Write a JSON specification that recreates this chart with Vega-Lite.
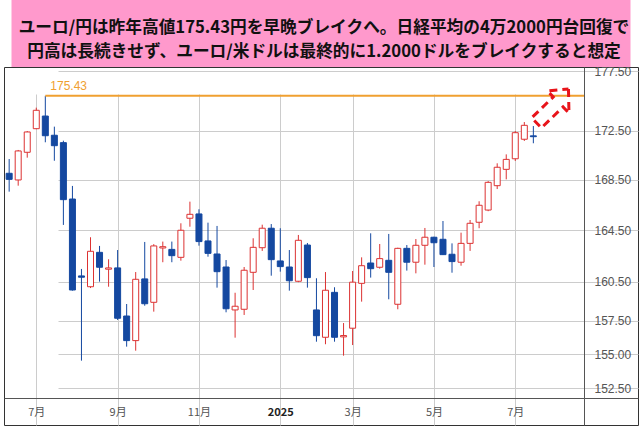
{
  "$schema": "https://vega.github.io/schema/vega-lite/v6.json",
  "padding": {"left": 3, "top": 0, "right": 3, "bottom": 2},
  "background": "white",
  "bounds": "flush",
  "spacing": 0,
  "center": true,
  "datasets": {
    "candles": [
      {"date":"2024-06-10","o":169.04,"h":170.20,"l":167.56,"c":168.55},
      {"date":"2024-06-17","o":168.50,"h":170.94,"l":168.04,"c":170.86},
      {"date":"2024-06-24","o":170.75,"h":172.50,"l":170.31,"c":172.42},
      {"date":"2024-07-01","o":172.69,"h":174.44,"l":172.65,"c":174.22},
      {"date":"2024-07-08","o":173.74,"h":175.43,"l":171.57,"c":172.11},
      {"date":"2024-07-15","o":172.15,"h":172.86,"l":170.06,"c":171.29},
      {"date":"2024-07-22","o":171.54,"h":171.70,"l":164.91,"c":166.92},
      {"date":"2024-07-29","o":166.97,"h":168.02,"l":159.80,"c":159.85},
      {"date":"2024-08-05","o":160.93,"h":161.47,"l":154.53,"c":160.83},
      {"date":"2024-08-12","o":160.10,"h":163.94,"l":160.00,"c":162.84},
      {"date":"2024-08-19","o":162.76,"h":163.26,"l":160.49,"c":161.60},
      {"date":"2024-08-26","o":161.45,"h":162.22,"l":160.10,"c":161.55},
      {"date":"2024-09-02","o":161.55,"h":162.94,"l":157.57,"c":157.70},
      {"date":"2024-09-09","o":157.87,"h":158.78,"l":155.57,"c":156.02},
      {"date":"2024-09-16","o":156.02,"h":161.23,"l":155.27,"c":160.67},
      {"date":"2024-09-23","o":160.70,"h":163.57,"l":158.65,"c":158.80},
      {"date":"2024-09-30","o":158.91,"h":163.40,"l":158.20,"c":163.26},
      {"date":"2024-10-07","o":163.10,"h":163.60,"l":161.99,"c":163.20},
      {"date":"2024-10-14","o":162.99,"h":163.60,"l":161.99,"c":162.50},
      {"date":"2024-10-21","o":162.37,"h":165.04,"l":162.11,"c":164.49},
      {"date":"2024-10-28","o":165.44,"h":166.76,"l":164.77,"c":165.75},
      {"date":"2024-11-04","o":165.78,"h":166.15,"l":163.28,"c":163.60},
      {"date":"2024-11-11","o":163.65,"h":165.09,"l":162.42,"c":162.68},
      {"date":"2024-11-18","o":162.63,"h":164.83,"l":160.03,"c":161.26},
      {"date":"2024-11-25","o":161.62,"h":162.16,"l":158.15,"c":158.42},
      {"date":"2024-12-02","o":158.33,"h":159.64,"l":156.24,"c":158.61},
      {"date":"2024-12-09","o":158.38,"h":161.62,"l":157.95,"c":161.37},
      {"date":"2024-12-16","o":161.21,"h":163.86,"l":159.85,"c":163.15},
      {"date":"2024-12-23","o":163.12,"h":164.93,"l":162.87,"c":164.65},
      {"date":"2024-12-30","o":164.65,"h":164.98,"l":160.95,"c":162.19},
      {"date":"2025-01-06","o":162.09,"h":164.65,"l":161.26,"c":161.65},
      {"date":"2025-01-13","o":161.62,"h":162.94,"l":159.80,"c":160.56},
      {"date":"2025-01-20","o":160.52,"h":164.12,"l":160.45,"c":163.70},
      {"date":"2025-01-27","o":163.33,"h":163.49,"l":160.03,"c":160.80},
      {"date":"2025-02-03","o":158.33,"h":160.75,"l":155.94,"c":156.39},
      {"date":"2025-02-10","o":156.27,"h":161.23,"l":155.75,"c":159.83},
      {"date":"2025-02-17","o":159.67,"h":160.06,"l":155.94,"c":156.27},
      {"date":"2025-02-24","o":156.30,"h":157.34,"l":154.90,"c":156.40},
      {"date":"2025-03-03","o":156.95,"h":161.31,"l":155.69,"c":160.45},
      {"date":"2025-03-10","o":160.36,"h":162.37,"l":158.96,"c":161.72},
      {"date":"2025-03-17","o":161.93,"h":164.25,"l":160.80,"c":161.49},
      {"date":"2025-03-24","o":161.60,"h":163.41,"l":161.49,"c":162.27},
      {"date":"2025-03-31","o":162.14,"h":164.20,"l":159.14,"c":161.21},
      {"date":"2025-04-07","o":158.76,"h":163.12,"l":158.38,"c":163.07},
      {"date":"2025-04-14","o":163.07,"h":163.33,"l":161.34,"c":161.99},
      {"date":"2025-04-21","o":161.99,"h":163.80,"l":161.13,"c":163.31},
      {"date":"2025-04-28","o":163.31,"h":164.67,"l":161.80,"c":163.94},
      {"date":"2025-05-05","o":163.94,"h":163.98,"l":161.62,"c":163.51},
      {"date":"2025-05-12","o":163.78,"h":165.22,"l":162.55,"c":162.58},
      {"date":"2025-05-19","o":162.61,"h":163.46,"l":161.18,"c":162.04},
      {"date":"2025-05-26","o":161.99,"h":164.30,"l":161.72,"c":163.46},
      {"date":"2025-06-02","o":163.46,"h":165.30,"l":162.87,"c":165.04},
      {"date":"2025-06-09","o":165.12,"h":166.79,"l":164.65,"c":166.47},
      {"date":"2025-06-16","o":166.09,"h":168.41,"l":166.00,"c":168.31},
      {"date":"2025-06-23","o":168.04,"h":169.85,"l":167.77,"c":169.53},
      {"date":"2025-06-30","o":169.36,"h":170.58,"l":168.55,"c":170.17},
      {"date":"2025-07-07","o":170.22,"h":172.50,"l":170.04,"c":172.36},
      {"date":"2025-07-14","o":171.82,"h":173.24,"l":171.68,"c":172.97},
      {"date":"2025-07-21","o":172.10,"h":172.91,"l":171.49,"c":172.03}
    ],
    "level": [
      {"date":"2024-07-08","end":"2025-08-29T05:30:00Z","price":175.43}
    ],
    "arrow": [
      {"i":0,"date":"2025-08-17T05:00:00Z","price":176.01},
      {"i":1,"date":"2025-08-17T14:00:00Z","price":173.99},
      {"i":2,"date":"2025-08-13T00:00:00Z","price":174.50},
      {"i":3,"date":"2025-07-27T07:00:00Z","price":172.76},
      {"i":4,"date":"2025-07-19T17:00:00Z","price":173.59},
      {"i":5,"date":"2025-08-05T10:00:00Z","price":175.34},
      {"i":6,"date":"2025-07-31T22:00:00Z","price":175.84},
      {"i":7,"date":"2025-08-17T05:00:00Z","price":176.01}
    ]
  },
  "vconcat": [
    {
      "width": 619,
      "height": 67,
      "view": {"fill": "#ff99cc", "stroke": null},
      "data": {"values": [{"t": "ユーロ/円は昨年高値175.43円を早晩ブレイクへ。日経平均の4万2000円台回復で\n円高は長続きせず、ユーロ/米ドルは最終的に1.2000ドルをブレイクすると想定"}]},
      "mark": {"type": "text", "lineBreak": "\n", "lineHeight": 24, "font": "Noto Sans CJK JP", "fontWeight": "bold", "fontSize": 16.7, "color": "#111111", "align": "center", "baseline": "middle", "dx": 3, "dy": -6},
      "encoding": {"text": {"field": "t", "type": "nominal"}}
    },
    {
      "width": 634,
      "height": 358,
      "view": {"stroke": "#333333", "strokeWidth": 1, "fill": "white"},
      "layer": [
        {
          "data": {"name": "candles"},
          "mark": {"type": "rule", "strokeWidth": 1},
          "encoding": {
            "x": {
              "field": "date", "type": "temporal",
              "scale": {
                "domain": [{"year": 2024, "month": 6, "date": 6, "utc": true}, {"year": 2025, "month": 8, "date": 29, "hours": 5, "minutes": 30, "utc": true}],
                "range": [0, 580],
                "padding": 0
              },
              "axis": {
                "orient": "bottom", "offset": -27, "title": null,
                "values": [
                  {"year": 2024, "month": 7, "date": 1, "utc": true},
                  {"year": 2024, "month": 9, "date": 2, "utc": true},
                  {"year": 2024, "month": 11, "date": 4, "utc": true},
                  {"year": 2025, "month": 1, "date": 6, "utc": true},
                  {"year": 2025, "month": 3, "date": 3, "utc": true},
                  {"year": 2025, "month": 5, "date": 5, "utc": true},
                  {"year": 2025, "month": 7, "date": 7, "utc": true},
                  {"year": 2025, "month": 8, "date": 29, "hours": 5, "minutes": 30, "utc": true}
                ],
                "labelExpr": "datum.value > utc(2025,7,15) ? '' : (utcmonth(datum.value) == 0 ? '2025' : (utcmonth(datum.value) + 1) + '月')",
                "grid": true, "gridColor": "#cccccc", "gridWidth": 1,
                "gridOpacity": {"condition": {"test": "datum.value > utc(2025,7,15)", "value": 0}, "value": 1},
                "ticks": true, "tickSize": 27, "tickColor": "#555555", "tickWidth": 1,
                "tickOpacity": {"condition": {"test": "datum.value > utc(2025,7,15)", "value": 1}, "value": 0},
                "domainColor": "#555555", "domainWidth": 1,
                "labelPadding": -19, "labelFont": "Noto Sans CJK JP", "labelFontSize": 11,
                "labelColor": {"condition": {"test": "utcmonth(datum.value) == 0", "value": "#222222"}, "value": "#555555"},
                "labelFontWeight": {"condition": {"test": "utcmonth(datum.value) == 0", "value": "bold"}, "value": "normal"},
                "labelFlush": false, "labelOverlap": false
              }
            },
            "y": {
              "field": "l", "type": "quantitative",
              "scale": {"type": "log", "domain": [151.79, 177.87], "range": [331, 0], "nice": false, "padding": 0},
              "axis": {
                "orient": "right", "offset": -54, "title": null,
                "values": [151.79, 152.5, 155, 157.5, 160.5, 164.5, 168.5, 172.5, 177.5],
                "labelExpr": "datum.value < 152 ? '' : format(datum.value, '.2f')",
                "grid": true, "gridColor": "#cccccc", "gridWidth": 1,
                "gridOpacity": {"condition": {"test": "datum.value < 152", "value": 0}, "value": 1},
                "ticks": true, "tickSize": 54, "tickColor": "#555555", "tickWidth": 1,
                "tickOpacity": {"condition": {"test": "datum.value < 152", "value": 1}, "value": 0},
                "domainColor": "#555555", "domainWidth": 1,
                "labelPadding": -44, "labelFont": "Liberation Sans", "labelFontSize": 12, "labelColor": "#555555",
                "labelFlush": false, "labelOverlap": false, "labelBound": false
              }
            },
            "y2": {"field": "h"},
            "color": {"condition": {"test": "datum.c >= datum.o", "value": "#dc3232"}, "value": "#1448a0"}
          }
        },
        {
          "data": {"name": "candles"},
          "mark": {"type": "bar", "size": 6, "strokeWidth": 1},
          "encoding": {
            "x": {"field": "date", "type": "temporal"},
            "y": {"field": "o", "type": "quantitative"},
            "y2": {"field": "c"},
            "fill": {"condition": {"test": "datum.c >= datum.o", "value": "#ffffff"}, "value": "#1448a0"},
            "stroke": {"condition": {"test": "datum.c >= datum.o", "value": "#dc3232"}, "value": "#1448a0"}
          }
        },
        {
          "data": {"name": "level"},
          "mark": {"type": "rule", "color": "#f0a030", "strokeWidth": 2},
          "encoding": {
            "x": {"field": "date", "type": "temporal"},
            "x2": {"field": "end"},
            "y": {"field": "price", "type": "quantitative"}
          }
        },
        {
          "data": {"name": "level"},
          "mark": {"type": "text", "align": "left", "baseline": "alphabetic", "dx": 5, "dy": -6, "color": "#f0a030", "font": "Liberation Sans", "fontSize": 12},
          "encoding": {
            "x": {"field": "date", "type": "temporal"},
            "y": {"field": "price", "type": "quantitative"},
            "text": {"field": "price", "type": "quantitative", "format": ".2f"}
          }
        },
        {
          "data": {"name": "arrow"},
          "mark": {"type": "line", "color": "#e8141a", "strokeWidth": 3, "strokeDash": [8, 5], "strokeJoin": "miter"},
          "encoding": {
            "x": {"field": "date", "type": "temporal"},
            "y": {"field": "price", "type": "quantitative"},
            "order": {"field": "i", "type": "quantitative"}
          }
        }
      ]
    }
  ]
}
